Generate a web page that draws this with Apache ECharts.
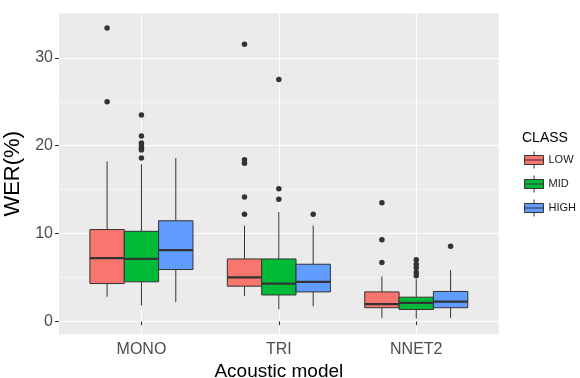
<!DOCTYPE html>
<html>
<head>
<meta charset="utf-8">
<script src="https://cdn.jsdelivr.net/npm/echarts@6/dist/echarts.min.js"></script>
<style>
  html, body { margin: 0; padding: 0; background: #fff; }
  #chart { width: 580px; height: 378px; }
</style>
</head>
<body>
<div id="chart"></div>
<script>
// acoustic models on the x axis
const models = ['MONO', 'TRI', 'NNET2']
const classes = ['LOW', 'MID', 'HIGH']
const classColors = ['#F8766D', '#00BA38', '#619CFF']
const classOffsets = [-0.25, 0, 0.25]

// box stats per model: [lower whisker, Q1, median, Q3, upper whisker]
const lowStats = [
  [2.8, 4.3, 7.2, 10.45, 18.2],
  [2.9, 4.0, 5.0, 7.1, 10.9],
  [0.4, 1.55, 1.95, 3.35, 5.1]
]
const midStats = [
  [1.8, 4.5, 7.1, 10.25, 17.9],
  [1.35, 3.0, 4.3, 7.1, 12.45],
  [0.3, 1.35, 2.1, 2.75, 4.8]
]
const highStats = [
  [2.2, 5.9, 8.1, 11.45, 18.6],
  [1.7, 3.35, 4.5, 6.5, 10.9],
  [0.4, 1.55, 2.25, 3.4, 5.85]
]

// outliers per model
const lowOutliers = [
  [33.4, 25.0],
  [31.55, 18.4, 18.0, 14.15, 12.2],
  [13.5, 9.3, 6.7]
]
const midOutliers = [
  [23.5, 21.1, 20.3, 20.0, 19.7, 19.5, 18.6],
  [27.55, 15.1, 13.9],
  [7.0, 6.5, 6.1, 5.6, 5.2]
]
const highOutliers = [
  [],
  [12.2],
  [8.55]
]

const yTicks = [0, 10, 20, 30]
const yMinorTicks = [5, 15, 25]

const allStats = [lowStats, midStats, highStats]
const allOutliers = [lowOutliers, midOutliers, highOutliers]

const BOX_W = 0.25
const font = 'Liberation Sans, Arial, sans-serif'

function renderBox(params, api) {
  const x = api.value(0)
  const cx = api.coord([x, 0])[0]
  const left = api.coord([x - BOX_W / 2, 0])[0]
  const right = api.coord([x + BOX_W / 2, 0])[0]
  const yLow = api.coord([x, api.value(1)])[1]
  const yQ1 = api.coord([x, api.value(2)])[1]
  const yMed = api.coord([x, api.value(3)])[1]
  const yQ3 = api.coord([x, api.value(4)])[1]
  const yHigh = api.coord([x, api.value(5)])[1]
  const stroke = '#333333'
  return {
    type: 'group',
    children: [
      { type: 'line', shape: { x1: cx, y1: yHigh, x2: cx, y2: yQ3 }, style: { stroke, lineWidth: 1 } },
      { type: 'line', shape: { x1: cx, y1: yQ1, x2: cx, y2: yLow }, style: { stroke, lineWidth: 1 } },
      { type: 'rect', shape: { x: left, y: yQ3, width: right - left, height: yQ1 - yQ3 },
        style: { fill: api.visual('color'), stroke, lineWidth: 1 } },
      { type: 'line', shape: { x1: left, y1: yMed, x2: right, y2: yMed }, style: { stroke, lineWidth: 2.2 } }
    ]
  }
}

const series = []
classes.forEach((name, ci) => {
  series.push({
    name: name,
    type: 'custom',
    renderItem: renderBox,
    itemStyle: { color: classColors[ci] },
    dimensions: ['x', 'low', 'q1', 'med', 'q3', 'high'],
    encode: { x: 0, y: [1, 2, 3, 4, 5] },
    data: allStats[ci].map((s, gi) => [gi + 1 + classOffsets[ci]].concat(s)),
    z: 2
  })
})
classes.forEach((name, ci) => {
  const pts = []
  allOutliers[ci].forEach((vals, gi) => {
    vals.forEach(v => pts.push([gi + 1 + classOffsets[ci], v]))
  })
  series.push({
    name: name + ' outliers',
    type: 'scatter',
    data: pts,
    symbolSize: 5.5,
    itemStyle: { color: '#333333', opacity: 1 },
    silent: true,
    z: 3
  })
})

const chart = echarts.init(document.getElementById('chart'), null, { renderer: 'canvas' })

const option = {
  backgroundColor: '#ffffff',
  animation: false,
  textStyle: { fontFamily: font },
  title: {
    text: 'CLASS',
    left: 522,
    top: 131,
    padding: 0,
    textStyle: { fontSize: 14, fontWeight: 'normal', color: '#000', fontFamily: font }
  },
  legend: {
    data: classes,
    orient: 'vertical',
    left: 524,
    top: 151,
    padding: 0,
    itemWidth: 19,
    itemHeight: 17,
    itemGap: 6,
    icon: 'path://M0,4H19V13H0Z M0,8.5H19 M9.5,0V4 M9.5,13V17',
    itemStyle: { borderColor: '#333333', borderWidth: 1 },
    textStyle: { fontSize: 11, color: '#1a1a1a', fontFamily: font },
    selectedMode: false
  },
  grid: {
    left: 59,
    top: 13.3,
    right: 81.3,
    bottom: 43.7,
    outerBoundsMode: 'none',
    containLabel: false,
    show: true,
    backgroundColor: '#EBEBEB',
    borderWidth: 0
  },
  xAxis: {
    type: 'value',
    min: 0.4,
    max: 3.6,
    name: 'Acoustic model',
    nameLocation: 'middle',
    nameGap: 24,
    nameTextStyle: { fontSize: 19, color: '#000', fontFamily: font },
    axisLine: { show: false },
    axisTick: { show: true, length: 4, customValues: [1, 2, 3], lineStyle: { color: '#333333' } },
    axisLabel: {
      customValues: [1, 2, 3],
      formatter: v => models[Math.round(v) - 1],
      fontSize: 16,
      color: '#4D4D4D',
      margin: 7,
      fontFamily: font
    },
    splitLine: { show: true, lineStyle: { color: '#ffffff', width: 1.1 } }
  },
  yAxis: [{
    type: 'value',
    min: -1.48,
    max: 35.08,
    name: 'WER(%)',
    nameLocation: 'middle',
    nameGap: 27.5,
    nameTextStyle: { fontSize: 22, color: '#000', fontFamily: font },
    axisLine: { show: false },
    axisTick: { show: true, length: 4, customValues: yTicks, lineStyle: { color: '#333333' } },
    axisLabel: { customValues: yTicks, fontSize: 16, color: '#4D4D4D', margin: 6, fontFamily: font },
    splitLine: { show: true, lineStyle: { color: '#ffffff', width: 1.1 } }
  }, {
    type: 'value',
    min: -1.48,
    max: 35.08,
    position: 'left',
    axisLine: { show: false },
    axisTick: { show: false, customValues: yMinorTicks },
    axisLabel: { show: false, customValues: yMinorTicks },
    splitLine: { show: true, lineStyle: { color: '#F5F5F5', width: 1 } }
  }],
  series: series
}

chart.setOption(option)
</script>
</body>
</html>
